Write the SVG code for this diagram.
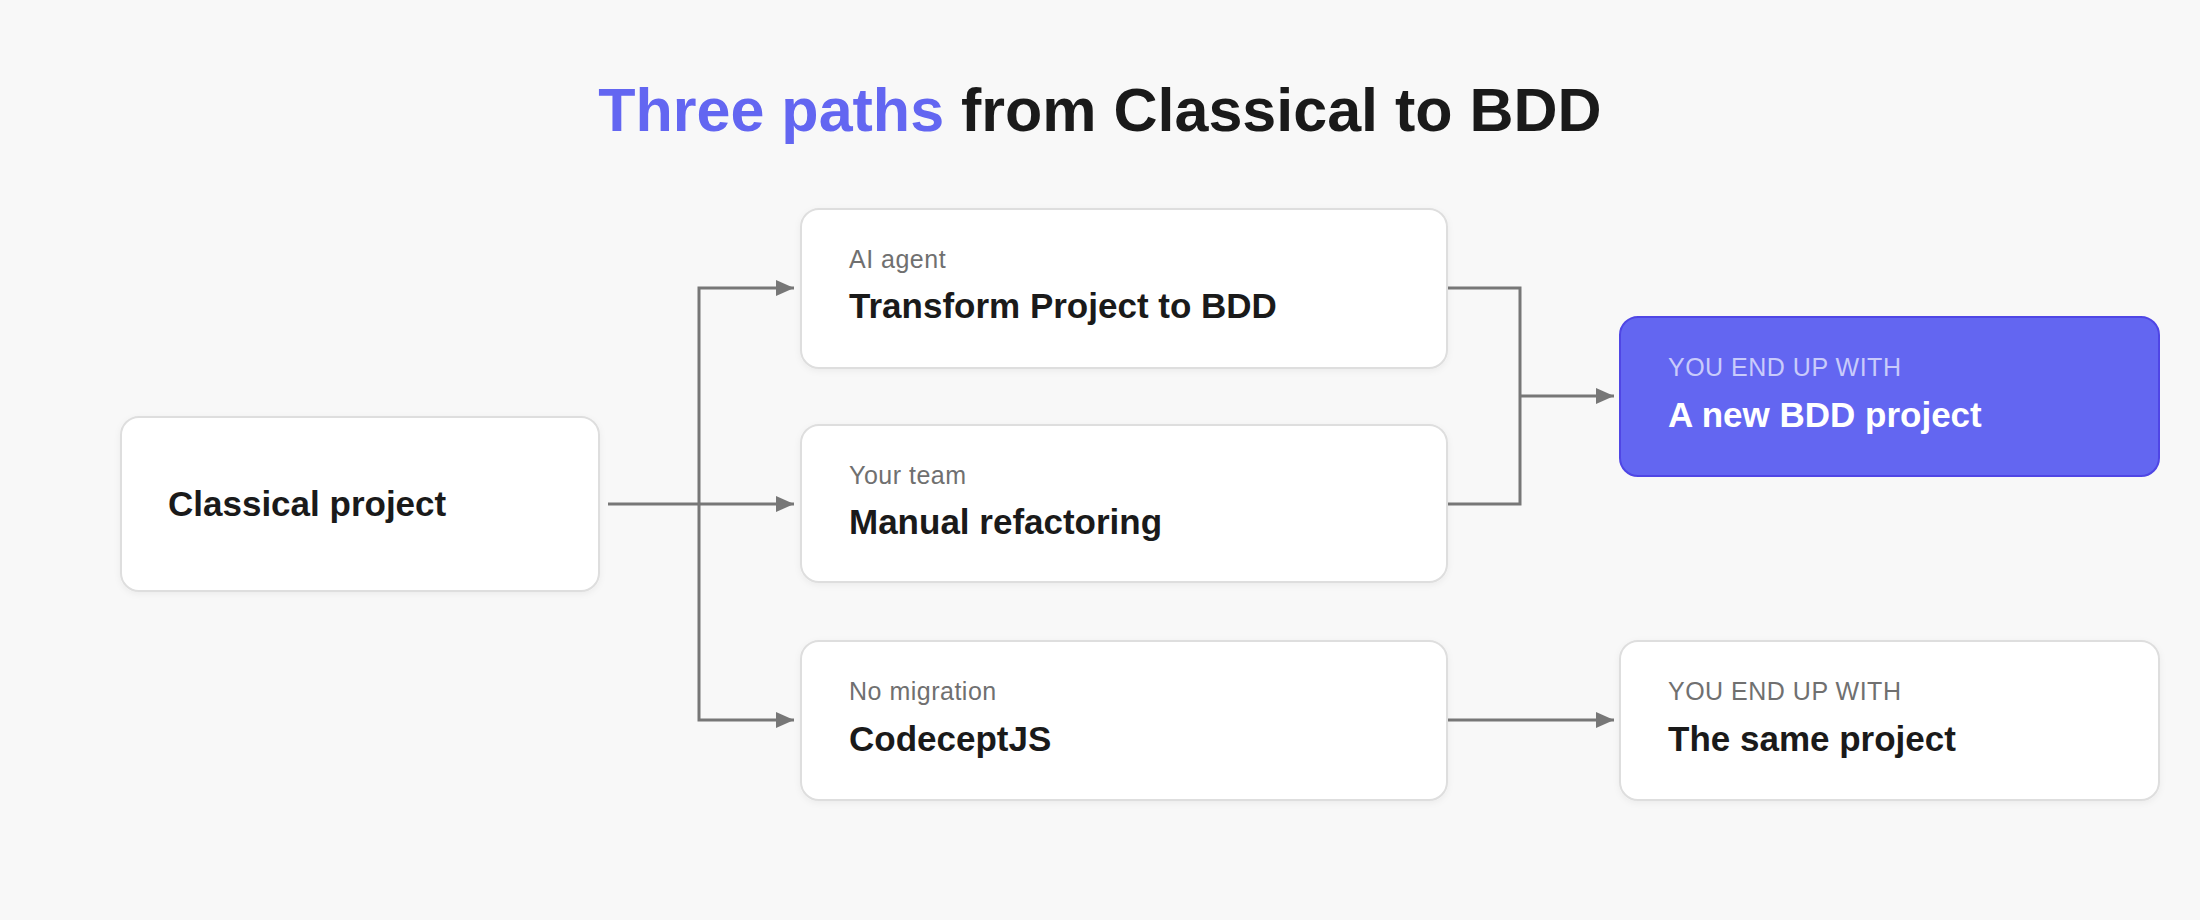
<svg xmlns="http://www.w3.org/2000/svg" width="2200" height="920" viewBox="0 0 2200 920">
<defs>
<marker id="ah" markerWidth="18" markerHeight="16" refX="18" refY="8" orient="auto" markerUnits="userSpaceOnUse"><path d="M0,0 L18,8 L0,16 z" fill="#777"/></marker>
<filter id="sh" x="-10%" y="-10%" width="120%" height="130%"><feDropShadow dx="0" dy="2" stdDeviation="3" flood-color="#000" flood-opacity="0.05"/></filter>
</defs>
<style>
text{font-family:"Liberation Sans",Arial,sans-serif}
.box{fill:#fff;stroke:#dedede;stroke-width:2;filter:url(#sh)}
.sub{font-size:25px;fill:#707070;letter-spacing:0.5px}
.main{font-size:35px;font-weight:bold;fill:#1a1a1a}
.c{fill:none;stroke:#777;stroke-width:3}
</style>
<rect width="2200" height="920" fill="#f8f8f8"/>
<text x="1100" y="131" text-anchor="middle" font-size="61" font-weight="bold" fill="#1a1a1a"><tspan fill="#6366f1">Three paths</tspan> from Classical to BDD</text>
<g id="connectors">
<path class="c" d="M608,504 H794" marker-end="url(#ah)"/>
<path class="c" d="M699,504 V288 H794" marker-end="url(#ah)"/>
<path class="c" d="M699,504 V720 H794" marker-end="url(#ah)"/>
<path class="c" d="M1448,288 H1520 V504 H1448"/>
<path class="c" d="M1520,396 H1614" marker-end="url(#ah)"/>
<path class="c" d="M1448,720 H1614" marker-end="url(#ah)"/>
</g>
<g id="classical"><rect class="box" x="121" y="417" width="478" height="174" rx="18"/><text class="main" x="168" y="516">Classical project</text></g>
<g id="ai"><rect class="box" x="801" y="209" width="646" height="159" rx="18"/><text class="sub" x="849" y="268">AI agent</text><text class="main" x="849" y="318">Transform Project to BDD</text></g>
<g id="team"><rect class="box" x="801" y="425" width="646" height="157" rx="18"/><text class="sub" x="849" y="484">Your team</text><text class="main" x="849" y="534">Manual refactoring</text></g>
<g id="codecept"><rect class="box" x="801" y="641" width="646" height="159" rx="18"/><text class="sub" x="849" y="700">No migration</text><text class="main" x="849" y="751">CodeceptJS</text></g>
<g id="newbdd"><rect x="1620" y="317" width="539" height="159" rx="18" fill="#6366f1" stroke="#4f46e5" stroke-width="2"/><text class="sub" x="1668" y="376" style="fill:#c9cbfb">YOU END UP WITH</text><text class="main" x="1668" y="427" style="fill:#fff">A new BDD project</text></g>
<g id="same"><rect class="box" x="1620" y="641" width="539" height="159" rx="18"/><text class="sub" x="1668" y="700">YOU END UP WITH</text><text class="main" x="1668" y="751">The same project</text></g>
</svg>
